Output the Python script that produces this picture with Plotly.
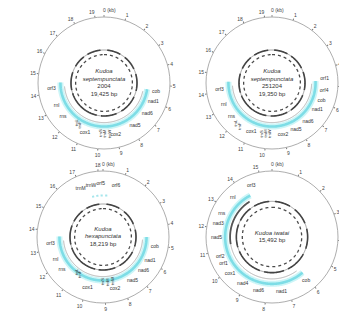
import numpy as np
import plotly.graph_objects as go

W, H = 347, 314

# ---------------- data ----------------
# Panel 1: Kudoa septempunctata 2004
P1_TITLE = "<i>Kudoa</i><br><i>septempunctata</i><br>2004<br>19,425 bp"
P1_LEN_KB = 19.425
P1_GENES = ["cob", "nad1", "nad6", "nad5", "cox2", "cox1", "rns", "rnl", "orf3"]
P1_GENE_KB = [5.40, 5.99, 6.75, 7.77, 9.01, 10.85, 12.46, 13.17, 14.25]
P1_TRN = ["trnW", "trnM", "trnS", "trnF", "trnL"]
P1_TRN_KB = [9.66, 9.93, 10.20, 11.58, 11.85]
P1_CODING_KB = [5.3, 14.6]
P1_RING_START = [0.3, 2.1, 4.0, 6.2, 8.5, 10.4, 13.9, 16.2, 17.8]
P1_RING_END = [1.6, 3.5, 5.6, 8.0, 10.0, 13.6, 15.6, 17.4, 19.1]

# Panel 2: Kudoa septempunctata 251204
P2_TITLE = "<i>Kudoa</i><br><i>septempunctata</i><br>251204<br>19,350 bp"
P2_LEN_KB = 19.350
P2_GENES = ["orf1", "orf4", "cob", "nad1", "nad6", "nad5", "cox2", "cox1", "rns", "rnl", "orf3"]
P2_GENE_KB = [4.60, 5.32, 5.91, 6.50, 7.36, 8.22, 9.03, 10.91, 12.36, 13.22, 14.14]
P2_TRN = ["trnW", "trnM", "trnS", "trnF", "trnL"]
P2_TRN_KB = [9.52, 9.79, 10.06, 11.48, 11.75]
P2_CODING_KB = [4.7, 14.6]
P2_RING_START = [0.2, 1.9, 3.8, 6.0, 8.2, 10.2, 13.6, 15.9, 17.6]
P2_RING_END = [1.5, 3.4, 5.5, 7.8, 9.8, 13.3, 15.4, 17.2, 19.0]

# Panel 3: Kudoa hexapunctata
P3_TITLE = "<i>Kudoa</i><br><i>hexapunctata</i><br>18,219 bp"
P3_LEN_KB = 18.219
P3_GENES = ["cob", "nad1", "nad6", "nad5", "cox2", "cox1", "rns", "rnl", "orf3",
            "trnM", "trnW", "orf5", "orf6"]
P3_GENE_KB = [5.11, 5.92, 6.58, 7.39, 8.45, 9.97, 11.69, 12.35, 13.31,
              16.95, 17.55, 18.10, 0.72]
P3_TRN = ["trnW", "trnM", "trnS", "trnF", "trnL"]
P3_TRN_KB = [8.84, 9.11, 9.38, 10.76, 11.03]
P3_CODING_KB = [4.55, 13.7]
P3_SMALL_START = [17.45, 17.75, 18.05, 0.15]
P3_SMALL_END = [17.60, 17.90, 18.20, 0.30]
P3_RING_START = [0.3, 2.0, 3.9, 5.9, 8.0, 9.8, 13.0, 15.1, 16.7]
P3_RING_END = [1.5, 3.4, 5.4, 7.6, 9.5, 12.7, 14.7, 16.3, 17.9]

# Panel 4: Kudoa iwatai
P4_TITLE = "<i>Kudoa iwatai</i><br>15,492 bp"
P4_LEN_KB = 15.492
P4_GENES = ["cob", "nad1", "nad6", "nad4", "cox1", "orf1", "orf2", "nad5", "nad3", "rns", "rnl", "orf3"]
P4_GENE_KB = [6.11, 7.32, 8.35, 9.12, 9.86, 10.37, 10.72, 11.58, 12.22, 12.70, 13.56, 14.55]
P4_CODING_KB = [6.0, 14.3]
P4_DARK_KB = [11.2, 14.1]
P4_RING_START = [0.2, 1.7, 3.3, 5.1, 6.9, 8.6, 10.9, 12.8, 14.2]
P4_RING_END = [1.3, 2.9, 4.7, 6.6, 8.3, 10.6, 12.5, 13.9, 15.3]

# ---------------- layout geometry ----------------
R_PX = 66
CENTERS = [(96, 75), (264, 75), (95, 229), (264, 229)]
FONT = "Liberation Sans"

fig = go.Figure()


def deg(kb, L):
    return np.asarray(kb, dtype=float) / L * 360.0


def arc(sub, L, kb0, kb1, r, color, width, dash="solid"):
    d0, d1 = float(deg(kb0, L)), float(deg(kb1, L))
    if d1 < d0:
        d1 += 360
    n = max(2, int(abs(d1 - d0) * 1.5) + 1)
    th = np.linspace(d0, d1, n)
    fig.add_trace(go.Scatterpolar(r=np.full(n, r), theta=th, mode="lines",
                                  line=dict(color=color, width=width, dash=dash),
                                  subplot=sub, hoverinfo="skip", showlegend=False))


def vlabels(idx, L, names, kbs, r):
    cx, cy = CENTERS[idx]
    th = np.radians(deg(kbs, L))
    for name, t in zip(names, th):
        x = cx + r * R_PX * np.sin(t)
        y = cy - r * R_PX * np.cos(t)
        fig.add_annotation(x=x / W, y=1 - y / H, xref="paper", yref="paper",
                           text=name, showarrow=False, textangle=-90,
                           font=dict(size=4, color="#333", family=FONT))


panels = [
    dict(title=P1_TITLE, L=P1_LEN_KB, genes=P1_GENES, gkb=P1_GENE_KB, trn=P1_TRN, tkb=P1_TRN_KB,
         coding=P1_CODING_KB, rs=P1_RING_START, re=P1_RING_END),
    dict(title=P2_TITLE, L=P2_LEN_KB, genes=P2_GENES, gkb=P2_GENE_KB, trn=P2_TRN, tkb=P2_TRN_KB,
         coding=P2_CODING_KB, rs=P2_RING_START, re=P2_RING_END),
    dict(title=P3_TITLE, L=P3_LEN_KB, genes=P3_GENES, gkb=P3_GENE_KB, trn=P3_TRN, tkb=P3_TRN_KB,
         coding=P3_CODING_KB, rs=P3_RING_START, re=P3_RING_END),
    dict(title=P4_TITLE, L=P4_LEN_KB, genes=P4_GENES, gkb=P4_GENE_KB, trn=[], tkb=[],
         coding=P4_CODING_KB, rs=P4_RING_START, re=P4_RING_END),
]

layout_polars = {}
for i, p in enumerate(panels):
    sub = "polar" if i == 0 else f"polar{i + 1}"
    L = p["L"]
    big = (i == 3)
    r_cyan = 0.71 if big else 0.66
    r_lab = 0.84 if big else 0.80
    r_grey = 0.635 if big else 0.60
    r_ring = 0.54 if big else 0.50
    r_dash = 0.45 if big else 0.43

    # coding region (cyan band)
    arc(sub, L, p["coding"][0], p["coding"][1], r_cyan, "rgba(170,238,242,0.6)", 6)
    arc(sub, L, p["coding"][0], p["coding"][1], r_cyan, "#7edde6", 2.6)
    # thin grey gene track
    arc(sub, L, p["coding"][0] + 0.2, p["coding"][1] - 0.3, r_grey, "#9a9a9a", 0.7)
    if big:
        arc(sub, L, P4_DARK_KB[0], P4_DARK_KB[1], r_grey, "#555", 1.8)
    if i == 2:
        for s, e in zip(P3_SMALL_START, P3_SMALL_END):
            arc(sub, L, s, e, r_cyan - 0.03, "#a6e6ec", 2)
    # inner rings
    arc(sub, L, 0, L, r_ring, "#777", 0.7)
    for s, e in zip(p["rs"], p["re"]):
        arc(sub, L, s, e, r_ring, "#444", 1.6)
    arc(sub, L, 0, L, r_dash, "#4a4a4a", 1.3, dash="dot")

    # gene labels
    fig.add_trace(go.Scatterpolar(r=np.full(len(p["genes"]), r_lab), theta=deg(p["gkb"], L),
                                  mode="text", text=p["genes"],
                                  textfont=dict(size=5, color="#333", family=FONT),
                                  subplot=sub, hoverinfo="skip", showlegend=False))
    if p["trn"]:
        vlabels(i, L, p["trn"], p["tkb"], r_lab - 0.03)

    # centre title
    fig.add_trace(go.Scatterpolar(r=[0], theta=[0], mode="text", text=[p["title"]],
                                  textfont=dict(size=6, color="#333", family=FONT),
                                  subplot=sub, hoverinfo="skip", showlegend=False))

    nt = int(np.floor(L)) + 1
    tick_kb = np.arange(nt)
    tick_txt = [""] + [str(k) for k in tick_kb[1:]]
    cx, cy = CENTERS[i]
    # "0 (kb)" label at the origin of the scale, set just right of the top tick
    fig.add_annotation(x=(cx - 3) / W, y=1 - (cy - R_PX - 2) / H, xref="paper", yref="paper",
                       xanchor="left", yanchor="bottom", text="0 (kb)", showarrow=False,
                       font=dict(size=5, color="#444", family=FONT))
    layout_polars[sub] = dict(
        domain=dict(x=[(cx - R_PX) / W, (cx + R_PX) / W],
                    y=[1 - (cy + R_PX) / H, 1 - (cy - R_PX) / H]),
        bgcolor="white",
        radialaxis=dict(visible=False, range=[0, 1]),
        angularaxis=dict(rotation=90, direction="clockwise", tickmode="array",
                         tickvals=list(deg(tick_kb, L)), ticktext=tick_txt,
                         ticks="outside", ticklen=1.5, tickwidth=0.6, tickcolor="#777",
                         linecolor="#8a8a8a", linewidth=0.7, showgrid=False,
                         tickfont=dict(size=5, color="#444", family=FONT)),
    )

fig.update_layout(width=W, height=H, margin=dict(l=0, r=0, t=0, b=0),
                  paper_bgcolor="white", plot_bgcolor="white", showlegend=False,
                  **layout_polars)

fig.write_html("out.html")
